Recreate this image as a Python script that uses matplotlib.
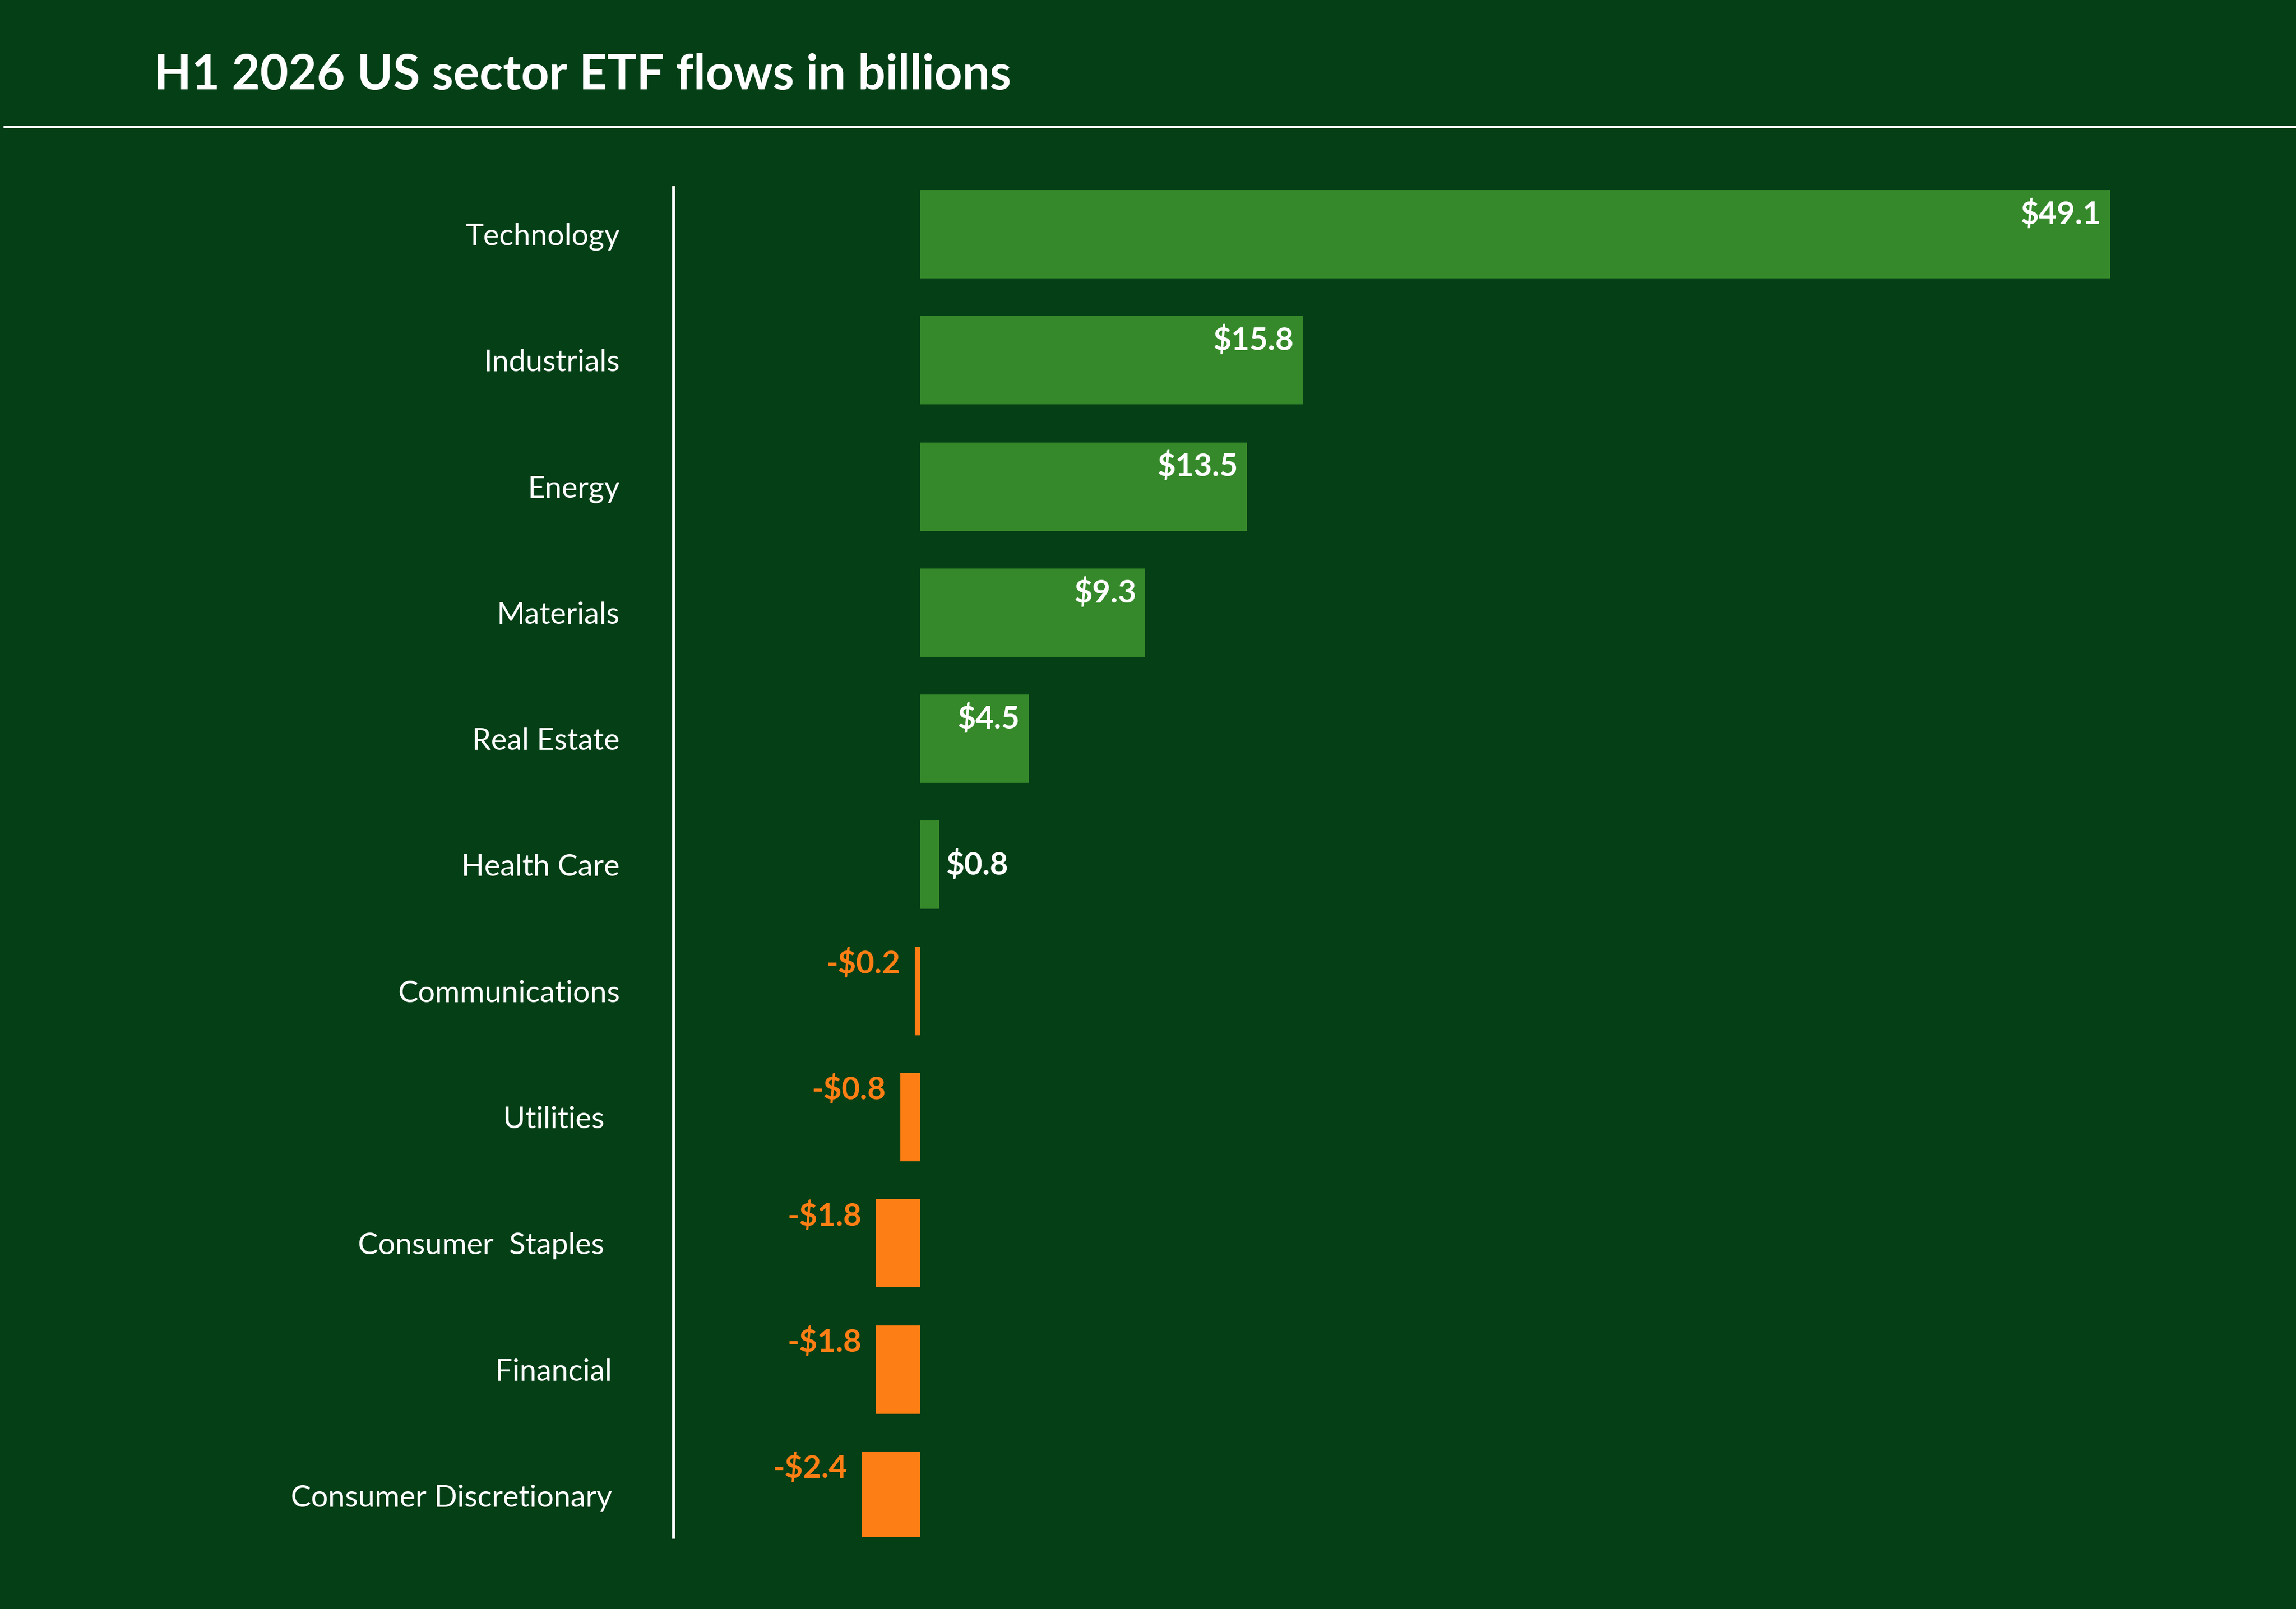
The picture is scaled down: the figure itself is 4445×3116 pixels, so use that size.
import matplotlib.pyplot as plt
from matplotlib.lines import Line2D

sectors = ["Technology", "Industrials", "Energy", "Materials", "Real Estate",
           "Health Care", "Communications", "Utilities  ", "Consumer  Staples  ",
           "Financial ", "Consumer Discretionary "]
flows = [49.1, 15.8, 13.5, 9.3, 4.5, 0.8, -0.2, -0.8, -1.8, -1.8, -2.4]
value_labels = ["$49.1", "$15.8", "$13.5", "$9.3", "$4.5", "$0.8",
                "-$0.2", "-$0.8", "-$1.8", "-$1.8", "-$2.4"]

bg = "#053f16"
green = "#35892a"
orange = "#fd7e14"

plt.rcParams['font.family'] = ['Lato', 'DejaVu Sans']

fig = plt.figure(figsize=(44.45, 31.16), dpi=100, facecolor=bg)
ax = fig.add_axes([0.2934, 0.0446, 0.6886, 0.8389])
ax.set_facecolor(bg)

y = list(range(len(sectors)))
colors = [green if v > 0 else orange for v in flows]
ax.barh(y, flows, height=0.7, color=colors)

ax.set_xlim(-10.15, 55.07)
ax.set_ylim(10.33, -0.37)
ax.set_yticks(y)
ax.set_yticklabels(sectors, fontsize=42, color="white")
ax.tick_params(axis="y", length=0, pad=75)
ax.set_xticks([])
for s in ["top", "right", "bottom"]:
    ax.spines[s].set_visible(False)
ax.spines["left"].set_color("white")
ax.spines["left"].set_linewidth(4)

for yi, v, lab in zip(y, flows, value_labels):
    if v >= 2:
        ax.annotate(lab, (v, yi - 0.16), xytext=(-12, 0), textcoords="offset points",
                    ha="right", va="center", fontsize=44, fontweight="bold", color="white")
    elif v > 0:
        ax.annotate(lab, (v, yi), xytext=(10, 0), textcoords="offset points",
                    ha="left", va="center", fontsize=44, fontweight="bold", color="white")
    else:
        ax.annotate(lab, (v, yi - 0.22), xytext=(-20, 0), textcoords="offset points",
                    ha="right", va="center", fontsize=44, fontweight="bold", color=orange)

fig.text(0.067, 0.953, "H1 2026 US sector ETF flows in billions", fontsize=68,
         fontweight="bold", color="white", va="center", ha="left")
fig.add_artist(Line2D([0.002, 1.0], [0.921, 0.921], color="white", linewidth=3,
                      transform=fig.transFigure))

fig.savefig("out.png", facecolor=bg)
